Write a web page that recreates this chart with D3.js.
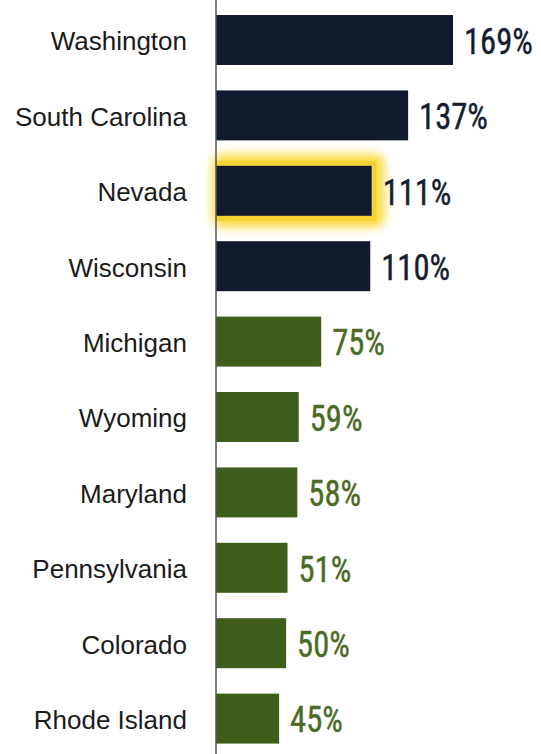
<!DOCTYPE html>
<html>
<head>
<meta charset="utf-8">
<script src="https://cdn.jsdelivr.net/npm/d3@7"></script>
<style>
  body { margin: 0; background: #fff; }
  .cat { font-family: "Liberation Sans", Arial, sans-serif; font-size: 26px; fill: #1b1b1b; }
  .val { font-family: "Liberation Sans Narrow", "Roboto Condensed", "DejaVu Sans Condensed", sans-serif; font-stretch: condensed; font-size: 37px; }
</style>
</head>
<body>
<div id="chart"></div>
<script>
const states = ['Washington', 'South Carolina', 'Nevada', 'Wisconsin', 'Michigan', 'Wyoming', 'Maryland', 'Pennsylvania', 'Colorado', 'Rhode Island'];
const values = [169, 137, 111, 110, 75, 59, 58, 51, 50, 45];
const groups = ['navy', 'navy', 'navy', 'navy', 'green', 'green', 'green', 'green', 'green', 'green'];
const highlighted = 'Nevada';

const W = 541, H = 754;
const barFill = { navy: '#111a2e', green: '#3f5e1b' };
const textFill = { navy: '#161d30', green: '#4b6a26' };

const data = states.map((s, i) => ({ state: s, value: values[i], group: groups[i] }));

const svg = d3.select('#chart').append('svg')
  .attr('width', W)
  .attr('height', H);

const defs = svg.append('defs');
defs.append('filter')
  .attr('id', 'glow')
  .attr('x', '-30%').attr('y', '-60%').attr('width', '160%').attr('height', '220%')
  .append('feGaussianBlur')
  .attr('stdDeviation', 5);

const x = d3.scaleLinear().domain([0, 169]).range([216, 453]);
const y = d3.scaleBand().domain(states).range([2.3, 756.3]).paddingInner(0.337).paddingOuter(0.1685);

// highlight glow
const hi = data.filter(d => d.state === highlighted);
svg.selectAll('.glow').data(hi).enter().append('rect')
  .attr('class', 'glow')
  .attr('x', x(0) - 4)
  .attr('y', d => y(d.state) - 12)
  .attr('width', d => x(d.value) - x(0) + 17)
  .attr('height', y.bandwidth() + 24)
  .attr('rx', 10)
  .attr('fill', '#fbdc4c')
  .attr('filter', 'url(#glow)');
svg.selectAll('.ring').data(hi).enter().append('rect')
  .attr('class', 'ring')
  .attr('x', x(0))
  .attr('y', d => y(d.state) - 5)
  .attr('width', d => x(d.value) - x(0) + 5)
  .attr('height', y.bandwidth() + 10)
  .attr('fill', '#f6d332');

svg.selectAll('.bar').data(data).enter().append('rect')
  .attr('class', 'bar')
  .attr('x', x(0))
  .attr('y', d => y(d.state))
  .attr('width', d => x(d.value) - x(0))
  .attr('height', y.bandwidth())
  .attr('fill', d => barFill[d.group]);

svg.selectAll('.val').data(data).enter().append('text')
  .attr('class', 'val')
  .attr('transform', d => `translate(${x(d.value) + 11},${y(d.state) + y.bandwidth() / 2}) scale(0.88,1)`)
  .attr('dy', '0.37em')
  .attr('fill', d => textFill[d.group])
  .attr('stroke', d => textFill[d.group])
  .attr('stroke-width', 0.4)
  .text(d => d.value + '%');

// category axis
const axis = svg.append('g')
  .attr('transform', `translate(${x(0)},0)`)
  .call(d3.axisLeft(y).tickSize(0).tickPadding(29));
axis.select('.domain').remove();
axis.selectAll('text').attr('class', 'cat').attr('fill', null).attr('dy', '0.4em');

svg.append('line')
  .attr('x1', x(0)).attr('x2', x(0))
  .attr('y1', 0).attr('y2', H)
  .attr('stroke', '#555')
  .attr('stroke-width', 1.5);
</script>
</body>
</html>
